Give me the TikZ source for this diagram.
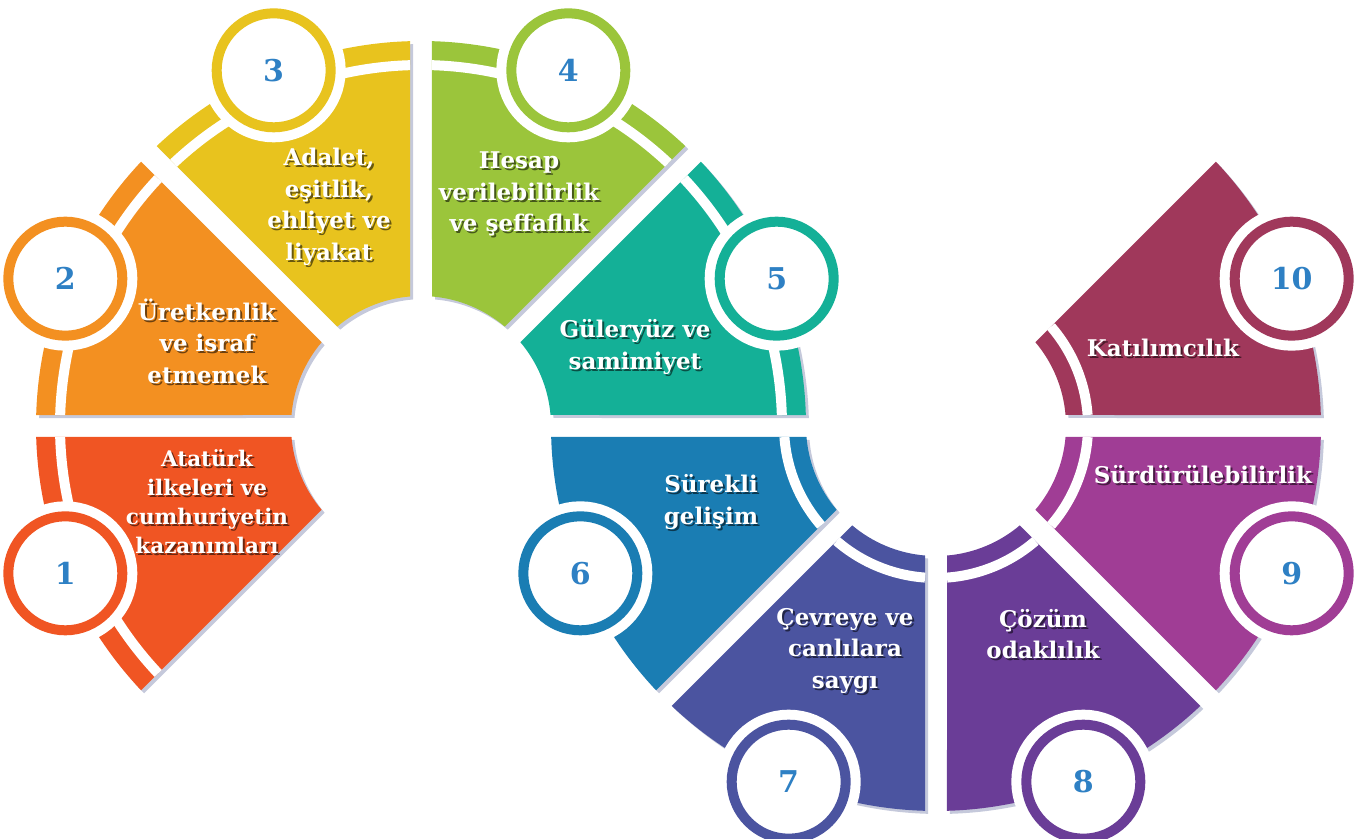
\documentclass[tikz,border=0pt]{standalone}
\usepackage{fontspec}
\setmainfont{DejaVu Serif}
\usetikzlibrary{calc,shadows}
\definecolor{petal1}{RGB}{240,85,35}
\definecolor{petal2}{RGB}{243,144,33}
\definecolor{petal3}{RGB}{232,195,30}
\definecolor{petal4}{RGB}{155,197,59}
\definecolor{petal5}{RGB}{20,176,151}
\definecolor{petal6}{RGB}{26,125,179}
\definecolor{petal7}{RGB}{75,84,160}
\definecolor{petal8}{RGB}{106,61,151}
\definecolor{petal9}{RGB}{160,61,149}
\definecolor{petal10}{RGB}{160,56,91}
\definecolor{numblue}{RGB}{46,128,196}
\definecolor{shadowgray}{RGB}{110,120,165}
\tikzset{petal/.style={fill=#1,
          drop shadow={shadow xshift=3pt,shadow yshift=-3pt,opacity=.4,fill=shadowgray}},
    	band/.style={draw=white,line width=10pt},
    	numcircle/.style={circle,fill=white,draw=#1,line width=10pt,minimum size=114pt,
    	  inner sep=0pt,preaction={draw=white,line width=30pt},
    	  text=numblue,font=\fontsize{30}{36}\selectfont\bfseries},
    	caption/.style={text=white,align=center,font=\fontsize{23}{31.5}\selectfont\bfseries},
    	caption shadow/.style={text=black,opacity=.55}}
% ring piece: centre, from angle, to angle, colour, radius of the white band
\newcommand{\petal}[5]{%
  \fill[petal=#4] ($(#1)+({#2+asin(11/385)}:385pt)$)
    arc[start angle={#2+asin(11/385)},end angle={#3-asin(11/385)},radius=385pt]
    -- ($(#1)+({#3-asin(11/130)}:130pt)$)
    arc[start angle={#3-asin(11/130)},end angle={#2+asin(11/130)},radius=130pt] -- cycle;
  \draw[band] ($(#1)+({#2+asin(11/#5)}:#5pt)$)
    arc[start angle={#2+asin(11/#5)},end angle={#3-asin(11/#5)},radius=#5pt];}
% white text with its dark shadow: options, name, position, text
\newcommand{\petaltext}[4][]{%
  \node[caption,#1,caption shadow] at ($(#3)+(2,-2)$) {#4};
  \node[caption,#1] (#2) at (#3) {#4};}

\begin{document}
\begin{tikzpicture}[x=1pt,y=1pt]
\useasboundingbox (0,0) rectangle (1368,838);
\coordinate (left) at (421,412);
\coordinate (right) at (936,412);
% left ring
\petal{left}{180}{225}{petal1}{361}
\petal{left}{135}{180}{petal2}{361}
\petal{left}{90}{135}{petal3}{361}
\petal{left}{45}{90}{petal4}{361}
\petal{left}{0}{45}{petal5}{361}
% right ring
\petal{right}{180}{225}{petal6}{152}
\petal{right}{225}{270}{petal7}{152}
\petal{right}{270}{315}{petal8}{152}
\petal{right}{315}{360}{petal9}{152}
\petal{right}{0}{45}{petal10}{152}
% numbers
\node[numcircle=petal1] (n1) at ($(left)+(202.5:385pt)$) {1};
\node[numcircle=petal2] (n2) at ($(left)+(157.5:385pt)$) {2};
\node[numcircle=petal3] (n3) at ($(left)+(112.5:385pt)$) {3};
\node[numcircle=petal4] (n4) at ($(left)+(67.5:385pt)$) {4};
\node[numcircle=petal5] (n5) at ($(left)+(22.5:385pt)$) {5};
\node[numcircle=petal6] (n6) at ($(right)+(202.5:385pt)$) {6};
\node[numcircle=petal7] (n7) at ($(right)+(247.5:385pt)$) {7};
\node[numcircle=petal8] (n8) at ($(right)+(292.5:385pt)$) {8};
\node[numcircle=petal9] (n9) at ($(right)+(337.5:385pt)$) {9};
\node[numcircle=petal10] (n10) at ($(right)+(22.5:385pt)$) {10};
% captions
\petaltext[font=\fontsize{21.5}{29}\selectfont\bfseries]{t1}{207,336}{Atatürk\\ilkeleri ve\\cumhuriyetin\\kazanımları}
\petaltext{t2}{207,497}{Üretkenlik\\ve israf\\etmemek}
\petaltext{t3}{329,631}{Adalet,\\eşitlik,\\ehliyet ve\\liyakat}
\petaltext{t4}{519,644}{Hesap\\verilebilirlik\\ve şeffaflık}
\petaltext{t5}{635,491}{Güleryüz ve\\samimiyet}
\petaltext{t6}{711,336}{Sürekli\\gelişim}
\petaltext{t7}{845,187}{Çevreye ve\\canlılara\\saygı}
\petaltext{t8}{1043,204}{Çözüm\\odaklılık}
\petaltext{t9}{1203,363}{Sürdürülebilirlik}
\petaltext{t10}{1163,490}{Katılımcılık}
\end{tikzpicture}
\end{document}
